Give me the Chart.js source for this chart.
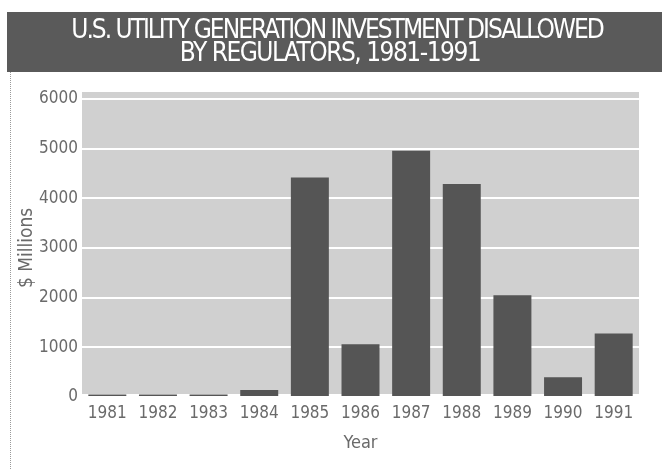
<!DOCTYPE html>
<html>
<head>
<meta charset="utf-8">
<script src="https://cdn.jsdelivr.net/npm/chart.js@4"></script>
<style>
  html, body { margin: 0; padding: 0; background: #fff; }
  #wrap { width: 662px; height: 469px; position: relative; }
</style>
</head>
<body>
<div id="wrap"><canvas id="bar_chart"></canvas></div>
<script>
const years = ['1981', '1982', '1983', '1984', '1985', '1986', '1987', '1988', '1989', '1990', '1991'];
const disallowed = [50, 50, 50, 140, 4420, 1060, 4960, 4290, 2050, 400, 1280];
const titleLines = ['U.S. UTILITY GENERATION INVESTMENT DISALLOWED', 'BY REGULATORS, 1981-1991'];

const narrow = "'Liberation Sans Narrow', 'DejaVu Sans Condensed', 'Arial Narrow', sans-serif";

// band + title text + left dotted rule + plot background
const frame = {
    id: 'frame',
    beforeDraw(chart) {
        const c = chart.ctx;
        const a = chart.chartArea;
        c.save();
        // plot background (a little above the 6000 line)
        c.fillStyle = '#d0d0d0';
        c.fillRect(a.left, a.top - 7, a.right - a.left, a.bottom - a.top + 4);
        // title band
        c.fillStyle = '#5a5a5a';
        c.fillRect(7, 12, 655, 60);
        c.fillStyle = '#ffffff';
        c.font = '26px ' + narrow;
        c.textAlign = 'center';
        c.textBaseline = 'middle';
        c.letterSpacing = '-2px';
        c.fillText(titleLines[0], 337, 31);
        c.letterSpacing = '-1.5px';
        c.fillText(titleLines[1], 330, 54);
        c.letterSpacing = '0px';
        // dotted left rule
        c.strokeStyle = '#9a9a9a';
        c.lineWidth = 1;
        c.setLineDash([1, 1]);
        c.beginPath();
        c.moveTo(10.5, 72);
        c.lineTo(10.5, 469);
        c.stroke();
        c.restore();
    }
};

const ctx = document.getElementById('bar_chart').getContext('2d');
const bar_chart = new Chart(ctx, {
    type: 'bar',
    data: {
        labels: years,
        datasets: [{
            label: '$ Millions',
            data: disallowed,
            backgroundColor: '#555555',
            borderWidth: 0,
            barPercentage: 0.75,
            categoryPercentage: 1.0
        }]
    },
    options: {
        responsive: true,
        maintainAspectRatio: false,
        animation: false,
        layout: { padding: { top: 99, right: 23, left: 0, bottom: 0 } },
        plugins: {
            legend: { display: false },
            tooltip: { enabled: false }
        },
        scales: {
            x: {
                grid: { display: false, drawTicks: false },
                border: { display: false },
                ticks: { color: '#6a6a6a', font: { family: narrow, size: 17 }, padding: 6, maxRotation: 0 },
                title: { display: true, text: 'Year', color: '#6a6a6a', font: { family: narrow, size: 18 }, padding: { top: 4, bottom: 15 } },
                afterFit: (s) => { s.height = 72; }
            },
            y: {
                min: 0,
                max: 6000,
                grid: { color: '#ffffff', lineWidth: 2, drawTicks: false },
                border: { display: false },
                ticks: {
                    stepSize: 1000, color: '#6a6a6a', font: { family: narrow, size: 17 }, padding: 4,
                    callback: (v) => String(v)
                },
                title: { display: true, text: '$ Millions', color: '#6a6a6a', font: { family: narrow, size: 19 }, padding: { top: 16, bottom: 4 } },
                afterFit: (s) => { s.width = 82; }
            }
        }
    },
    plugins: [frame]
});
</script>
</body>
</html>
